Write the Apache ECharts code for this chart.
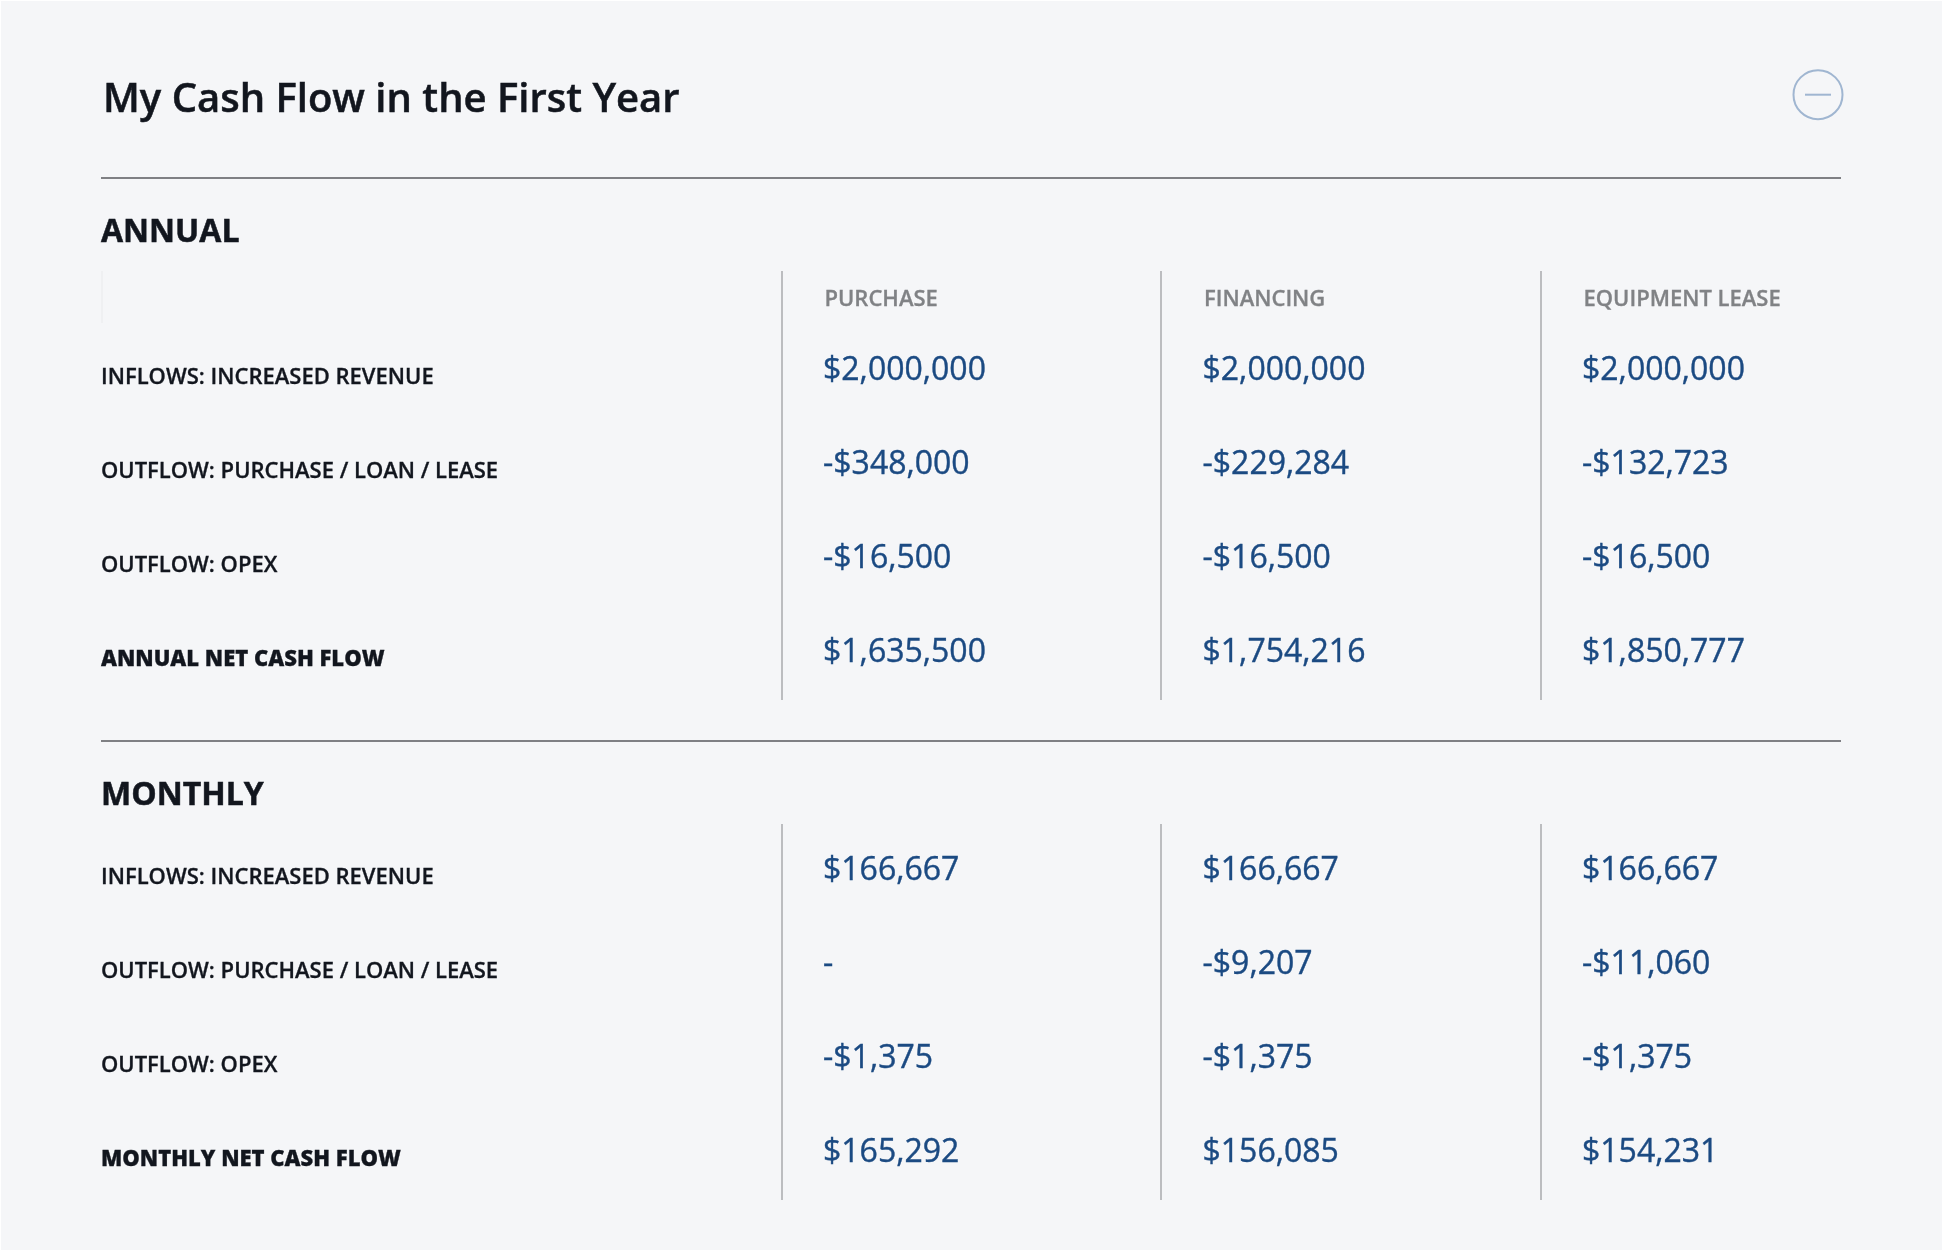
<!DOCTYPE html>
<html>
<head>
<meta charset="utf-8">
<style>
  html, body { margin: 0; padding: 0; background: #fff; }
  #chart { width: 1942px; height: 1254px; }
</style>
<script src="https://cdn.jsdelivr.net/npm/echarts@6/dist/echarts.min.js"></script>
</head>
<body>
<div id="chart"></div>
<script>
const columns = ['PURCHASE', 'FINANCING', 'EQUIPMENT LEASE']
const annualRows = ['INFLOWS: INCREASED REVENUE', 'OUTFLOW: PURCHASE / LOAN / LEASE', 'OUTFLOW: OPEX', 'ANNUAL NET CASH FLOW']
const monthlyRows = ['INFLOWS: INCREASED REVENUE', 'OUTFLOW: PURCHASE / LOAN / LEASE', 'OUTFLOW: OPEX', 'MONTHLY NET CASH FLOW']

const annualPurchase = [2000000, -348000, -16500, 1635500]
const annualFinancing = [2000000, -229284, -16500, 1754216]
const annualLease = [2000000, -132723, -16500, 1850777]

const monthlyPurchase = [166667, 0, -1375, 165292]
const monthlyFinancing = [166667, -9207, -1375, 156085]
const monthlyLease = [166667, -11060, -1375, 154231]

const fontFamily = '"Open Sans", "Noto Sans", sans-serif'
const ink = '#12161e'
const blue = '#1b4a82'
const headGrey = '#808285'
const ruleGrey = '#bcbdc0'

// a hair of stroke so the text weight matches the reference
const heavier = (color, width) => ({ textBorderColor: color, textBorderWidth: width })

const money = v => {
  if (v === 0) return '-'
  return (v < 0 ? '-$' : '$') + Math.abs(v).toLocaleString('en-US')
}

const grids = [
  { left: 781.5, width: 759, top: 324, height: 376, outerBoundsMode: 'none' },
  { left: 781.5, width: 759, top: 824, height: 376, outerBoundsMode: 'none' }
]

const xAxis = [0, 1].map(i => ({
  type: 'category',
  gridIndex: i,
  position: 'top',
  boundaryGap: false,
  data: columns,
  axisLine: { show: false },
  axisTick: {
    show: i === 0,
    length: 53,
    alignWithLabel: true,
    lineStyle: { color: ruleGrey, width: 2 }
  },
  splitLine: { show: true, lineStyle: { color: ruleGrey, width: 2 } },
  axisLabel: {
    show: i === 0,
    interval: 0,
    align: 'left',
    verticalAlign: 'bottom',
    margin: 13,
    padding: [0, 0, 0, 43],
    fontFamily,
    fontSize: 22,
    fontWeight: 600,
    color: headGrey,
    ...heavier(headGrey, 0.3)
  }
}))

const rowAxis = (rows, i) => ({
  type: 'category',
  gridIndex: i,
  inverse: true,
  data: rows.map((r, n) => ({
    value: r,
    textStyle: {
      align: 'left',
      verticalAlign: 'top',
      lineHeight: 13,
      fontWeight: n === rows.length - 1 ? 800 : 600
    }
  })),
  axisLine: { show: false },
  axisTick: { show: false },
  splitLine: { show: false },
  axisLabel: {
    interval: 0,
    align: 'left',
    margin: 680.5,
    fontFamily,
    fontSize: 22,
    color: ink,
    ...heavier(ink, 0.3)
  }
})

const cellSeries = (values, col, i) => ({
  type: 'scatter',
  xAxisIndex: i,
  yAxisIndex: i,
  symbolSize: 0,
  silent: true,
  itemStyle: { opacity: 1 },
  data: values.map((v, row) => [col, row, v]),
  label: {
    show: true,
    position: 'right',
    distance: 41.5,
    opacity: 1,
    formatter: p => money(p.value[2]),
    fontFamily,
    fontSize: 32,
    color: blue,
    ...heavier(blue, 0.4)
  }
})

const sectionTitle = (text, left, top, fontSize, fontWeight) => ({
  text,
  left,
  top,
  padding: 0,
  textStyle: { fontFamily, fontSize, fontWeight, color: ink, ...heavier(ink, 0.5) }
})

const option = {
  animation: false,
  title: [
    sectionTitle('My Cash Flow in the First Year', 103, 81, 40, 600),
    sectionTitle('ANNUAL', 101, 217, 32, 700),
    sectionTitle('MONTHLY', 101, 780, 32, 700)
  ],
  grid: grids,
  xAxis,
  yAxis: [rowAxis(annualRows, 0), rowAxis(monthlyRows, 1)],
  series: [
    cellSeries(annualPurchase, 0, 0),
    cellSeries(annualFinancing, 1, 0),
    cellSeries(annualLease, 2, 0),
    cellSeries(monthlyPurchase, 0, 1),
    cellSeries(monthlyFinancing, 1, 1),
    cellSeries(monthlyLease, 2, 1)
  ],
  graphic: [
    // panel
    { type: 'rect', z: -10, silent: true, shape: { x: 1, y: 1, width: 1941, height: 1249 }, style: { fill: '#f5f6f8' } },
    // section rules
    { type: 'line', silent: true, shape: { x1: 101, y1: 178, x2: 1841, y2: 178 }, style: { stroke: '#7f8084', lineWidth: 2 } },
    { type: 'line', silent: true, shape: { x1: 101, y1: 741, x2: 1841, y2: 741 }, style: { stroke: '#7f8084', lineWidth: 2 } },
    { type: 'line', silent: true, shape: { x1: 102, y1: 271, x2: 102, y2: 323 }, style: { stroke: '#e9eaec', lineWidth: 1 } },
    // collapse button
    { type: 'circle', silent: true, shape: { cx: 1818, cy: 94.7, r: 24.5 }, style: { fill: 'none', stroke: '#a0b6d1', lineWidth: 2 } },
    { type: 'line', silent: true, shape: { x1: 1805, y1: 94.7, x2: 1831, y2: 94.7 }, style: { stroke: '#a0b6d1', lineWidth: 2 } }
  ]
}

const chart = echarts.init(document.getElementById('chart'))
chart.setOption(option)
</script>
</body>
</html>
